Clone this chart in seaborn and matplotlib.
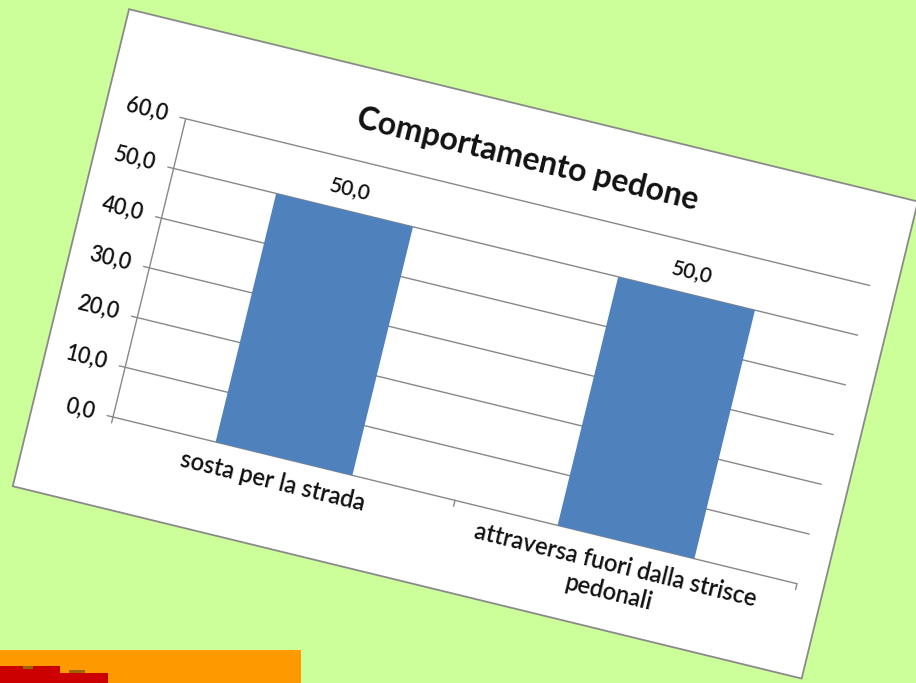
import matplotlib
matplotlib.use('Agg')
import matplotlib.pyplot as plt
import seaborn as sns
from matplotlib.patches import Rectangle
from matplotlib.transforms import Affine2D, IdentityTransform, blended_transform_factory

# dati del grafico
categorie = ['sosta per la strada', 'attraversa fuori dalla strisce\npedonali']
valori = [50.0, 50.0]
tick_valori = [0, 10, 20, 30, 40, 50, 60]
etichette_tick = ['0,0', '10,0', '20,0', '30,0', '40,0', '50,0', '60,0']
etichette_dati = ['50,0', '50,0']
titolo = 'Comportamento pedone'

sns.set_theme(style='white')
plt.rcParams['font.family'] = ['Lato', 'DejaVu Sans']

W, H = 916, 683
fig = plt.figure(figsize=(W / 100, H / 100), dpi=100, facecolor='#CCFF99')

# area del grafico (non ruotata), in pixel
ox, oy = 113, 266
aw, ah = 704, 307
ang = -13.7

ax = fig.add_axes([ox / W, oy / H, aw / W, ah / H])
sns.barplot(x=categorie, y=valori, color='#4F81BD', saturation=1, width=0.4,
            linewidth=0, ax=ax)
ax.set_xlim(-0.5, 1.5)
ax.set_ylim(0, 60)
ax.axis('off')

# trasformazioni ruotate
rot = Affine2D().rotate_deg_around(ox, oy, ang)
tr_dati = ax.transData + rot
tr_px = Affine2D().translate(ox, oy) + rot
# x in pixel dall'asse, y nei dati
tr_y = blended_transform_factory(Affine2D().translate(ox, 0), ax.transData) + rot
# x nei dati, y in pixel dall'asse
tr_x = blended_transform_factory(ax.transData, Affine2D().translate(0, oy)) + rot


def sposta(dx, dy):
    return ax.transData + Affine2D().translate(dx, dy) + rot


# cartoncino bianco
ax.add_patch(Rectangle((-81, -91), 812, 491, transform=tr_px, facecolor='white',
                       edgecolor='#8a8a8a', lw=1.3, zorder=0, clip_on=False))

for p in ax.patches[:-1]:
    p.set_transform(tr_dati)
    p.set_clip_on(False)
    p.set_zorder(3)

grigio = '#888888'
for v, lab in zip(tick_valori, etichette_tick):
    ax.plot([-6, aw], [v, v], color=grigio, lw=1.0, transform=tr_y,
            clip_on=False, zorder=1)
    ax.text(-19, v, lab, transform=tr_y, ha='right', va='center', fontsize=15.5,
            fontweight='semibold', rotation=ang, rotation_mode='anchor',
            color='#111111')

ax.plot([-0.5, -0.5], [0, 60], color=grigio, lw=1.0, transform=tr_dati,
        clip_on=False, zorder=1)
for c in [-0.5, 0.5, 1.5]:
    ax.plot([c, c], [0, -6], color=grigio, lw=1.0, transform=tr_x,
            clip_on=False, zorder=1)

for i, (v, lab) in enumerate(zip(valori, etichette_dati)):
    ax.text(i, v, lab, transform=sposta(0, 22), ha='center', va='center',
            fontsize=15, fontweight='semibold', rotation=ang,
            rotation_mode='anchor', color='#111111')

for i, cat in enumerate(categorie):
    ax.text(i - 0.015, -13, cat, transform=tr_x, ha='center', va='top',
            multialignment='center', linespacing=1.3, fontsize=17,
            fontweight='semibold', rotation=ang, rotation_mode='anchor',
            color='#111111')

ax.text(342, 348, titolo, transform=tr_px, ha='center', va='center',
        fontsize=23, fontweight='bold', rotation=ang, rotation_mode='anchor',
        color='#111111')

# rettangoli in basso a sinistra
fig.add_artist(Rectangle((0, 0), 301, 33, transform=IdentityTransform(),
                         facecolor='#FF9900', edgecolor='none'))
fig.add_artist(Rectangle((0, 0), 60, 17, transform=IdentityTransform(),
                         facecolor='#CC0000', edgecolor='none'))
fig.add_artist(Rectangle((60, 0), 48, 10, transform=IdentityTransform(),
                         facecolor='#CC0000', edgecolor='none'))
fig.add_artist(Rectangle((23, 14), 10, 3, transform=IdentityTransform(),
                         facecolor='#996600', edgecolor='none'))
fig.add_artist(Rectangle((69, 10), 16, 3, transform=IdentityTransform(),
                         facecolor='#996600', edgecolor='none'))

fig.savefig('out.png', dpi=100, facecolor=fig.get_facecolor())
